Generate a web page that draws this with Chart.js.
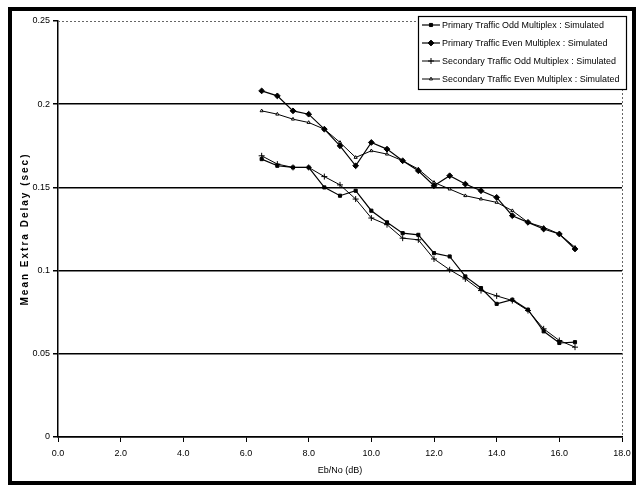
<!DOCTYPE html>
<html><head><meta charset="utf-8">
<script src="https://cdn.jsdelivr.net/npm/chart.js@4.4.1/dist/chart.umd.min.js"></script>
<style>html,body{margin:0;padding:0;background:#fff}</style>
</head><body>
<canvas id="c" width="643" height="489"></canvas>
<script>
// ---- data ----
const ebNo = [6.5, 7.0, 7.5, 8.0, 8.5, 9.0, 9.5, 10.0, 10.5, 11.0, 11.5, 12.0, 12.5, 13.0, 13.5, 14.0, 14.5, 15.0, 15.5, 16.0, 16.5];
const primaryOdd    = [0.167, 0.163, 0.162, 0.162, 0.150, 0.145, 0.148, 0.136, 0.129, 0.1225, 0.1215, 0.1105, 0.1085, 0.0965, 0.0895, 0.080, 0.0825, 0.0765, 0.0635, 0.0565, 0.057];
const primaryEven   = [0.208, 0.205, 0.196, 0.194, 0.185, 0.175, 0.163, 0.177, 0.173, 0.166, 0.160, 0.151, 0.157, 0.152, 0.148, 0.144, 0.133, 0.129, 0.125, 0.122, 0.113];
const secondaryOdd  = [0.169, 0.164, 0.162, 0.162, 0.1565, 0.1515, 0.143, 0.1316, 0.1276, 0.1195, 0.1185, 0.107, 0.1005, 0.095, 0.088, 0.0848, 0.082, 0.076, 0.065, 0.058, 0.054];
const secondaryEven = [0.196, 0.194, 0.191, 0.189, 0.185, 0.177, 0.168, 0.172, 0.170, 0.166, 0.161, 0.153, 0.149, 0.145, 0.143, 0.141, 0.136, 0.129, 0.126, 0.122, 0.114];
const seriesNames = [
  'Primary Traffic Odd Multiplex : Simulated',
  'Primary Traffic Even Multiplex : Simulated',
  'Secondary Traffic Odd Multiplex : Simulated',
  'Secondary Traffic Even Multiplex : Simulated'
];
const xTickLabels = ['0.0', '2.0', '4.0', '6.0', '8.0', '10.0', '12.0', '14.0', '16.0', '18.0'];
const yTickLabels = ['0', '0.05', '0.1', '0.15', '0.2', '0.25'];
const xTitle = 'Eb/No (dB)';
const yTitle = 'Mean Extra Delay (sec)';

const FONT = "'Liberation Sans', Arial, sans-serif";
const toPts = arr => ebNo.map((x, i) => ({x: x, y: arr[i]}));

const styles = [
  {pointStyle: 'rect', pointRadius: 2.2, borderWidth: 1.2, bg: '#000'},
  {pointStyle: 'rectRot', pointRadius: 2.9, borderWidth: 1.2, bg: '#000'},
  {pointStyle: 'cross', pointRadius: 3.0, borderWidth: 1.0, bg: '#000'},
  {pointStyle: 'triangle', pointRadius: 1.8, borderWidth: 1.0, bg: '#fff'}
];
const seriesData = [primaryOdd, primaryEven, secondaryOdd, secondaryEven];

const datasets = seriesData.map((arr, i) => ({
  label: seriesNames[i],
  data: toPts(arr),
  showLine: true,
  borderColor: '#000',
  borderWidth: styles[i].borderWidth,
  pointStyle: styles[i].pointStyle,
  pointRadius: styles[i].pointRadius,
  pointBorderWidth: 1,
  pointBackgroundColor: styles[i].bg,
  pointBorderColor: '#000',
  tension: 0
}));

const decor = {
  id: 'decor',
  beforeDraw(chart) {
    const s = chart.scales.y;
    if (s && !s._ls) {
      const orig = s.drawTitle.bind(s);
      s.drawTitle = function () {
        chart.ctx.save();
        chart.ctx.letterSpacing = '2px';
        orig();
        chart.ctx.restore();
      };
      s._ls = true;
    }
  },
  afterDraw(chart) {
    const ctx = chart.ctx;
    const a = chart.chartArea;
    ctx.save();
    // dotted top / right plot border
    ctx.strokeStyle = '#666';
    ctx.lineWidth = 1;
    ctx.setLineDash([2, 2]);
    ctx.beginPath();
    ctx.moveTo(a.left, a.top + 0.5); ctx.lineTo(a.right, a.top + 0.5);
    ctx.moveTo(a.right + 0.5, a.top); ctx.lineTo(a.right + 0.5, a.bottom);
    ctx.stroke();
    ctx.setLineDash([]);

    // legend box
    const bx = 418, by = 16, bw = 208, bh = 73;
    ctx.fillStyle = '#fff';
    ctx.fillRect(bx, by, bw, bh);
    ctx.strokeStyle = '#000';
    ctx.lineWidth = 1.2;
    ctx.strokeRect(bx + 0.5, by + 0.5, bw, bh);
    ctx.font = '9px ' + FONT;
    ctx.fillStyle = '#000';
    ctx.textBaseline = 'middle';
    ctx.textAlign = 'left';
    const k = 162 / ctx.measureText(seriesNames[0]).width;
    chart.data.datasets.forEach((ds, i) => {
      const y = 25 + i * 18;
      ctx.strokeStyle = '#000';
      ctx.lineWidth = ds.borderWidth;
      ctx.beginPath();
      ctx.moveTo(422, y); ctx.lineTo(440, y);
      ctx.stroke();
      ctx.fillStyle = ds.pointBackgroundColor;
      ctx.lineWidth = 1;
      Chart.helpers.drawPoint(ctx, {pointStyle: ds.pointStyle, radius: ds.pointRadius, borderWidth: 1, rotation: 0}, 431, y);
      ctx.fillStyle = '#000';
      const w = ctx.measureText(ds.label).width;
      ctx.fillText(ds.label, 442, y + 0.5, w * k);
    });

    // outer frame
    ctx.strokeStyle = '#000';
    ctx.lineWidth = 4;
    ctx.strokeRect(10, 9, 624, 474);
    ctx.restore();
  }
};

new Chart(document.getElementById('c'), {
  type: 'scatter',
  data: {datasets: datasets},
  options: {
    responsive: false,
    animation: false,
    devicePixelRatio: 1,
    layout: {padding: {top: 21, right: 21, bottom: 0, left: 0}},
    plugins: {legend: {display: false}, tooltip: {enabled: false}},
    scales: {
      x: {
        type: 'linear', min: 0, max: 18,
        afterFit: s => { s.height = 52; },
        ticks: {
          stepSize: 2, autoSkip: false, maxRotation: 0, padding: 6,
          color: '#000', font: {family: FONT, size: 9},
          callback: (v, i) => xTickLabels[i]
        },
        grid: {drawOnChartArea: false, tickLength: 5, color: '#000', tickColor: '#000', lineWidth: 1},
        border: {display: true, color: '#000', width: 1.5},
        title: {display: true, text: xTitle, color: '#000', font: {family: FONT, size: 9}, padding: {top: 0, bottom: 13}}
      },
      y: {
        type: 'linear', min: 0, max: 0.25,
        afterFit: s => { s.width = 58; },
        ticks: {
          stepSize: 0.05, padding: 3,
          color: '#000', font: {family: FONT, size: 9},
          callback: (v, i) => yTickLabels[i]
        },
        grid: {
          tickLength: 5, lineWidth: 1.5, tickColor: '#000',
          color: c => (c.tick && c.tick.value > 0.24) ? 'rgba(0,0,0,0)' : '#000'
        },
        border: {display: true, color: '#000', width: 1.5},
        title: {display: true, text: yTitle, color: '#000', font: {family: FONT, size: 10, weight: 'bold'}, padding: {top: 19, bottom: 0}}
      }
    }
  },
  plugins: [decor]
});
</script>
</body></html>
